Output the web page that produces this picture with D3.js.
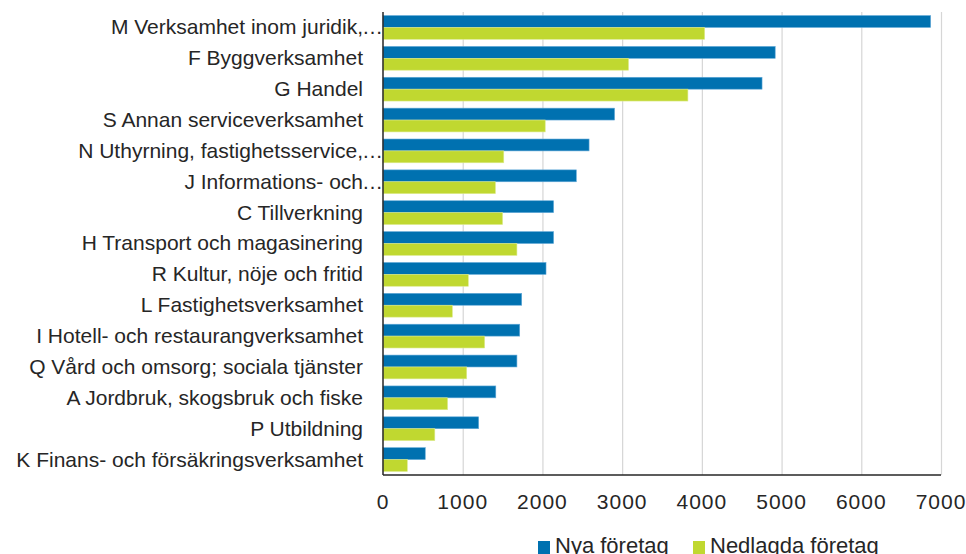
<!DOCTYPE html>
<html>
<head>
<meta charset="utf-8">
<script src="https://cdn.jsdelivr.net/npm/d3@7"></script>
<style>
  body { margin: 0; background: #fff; }
  svg { display: block; font-family: "Liberation Sans", Arial, sans-serif; }
  .grid line { stroke: #d6d6d6; stroke-width: 1.2; }
  .grid .domain { display: none; }
  .axis-label { font-size: 21px; fill: #262626; }
</style>
</head>
<body>
<svg id="chart"></svg>
<script>
// Categories, top to bottom
const categories = [
  'M Verksamhet inom juridik,…',
  'F Byggverksamhet',
  'G Handel',
  'S Annan serviceverksamhet',
  'N Uthyrning, fastighetsservice,…',
  'J Informations- och…',
  'C Tillverkning',
  'H Transport och magasinering',
  'R Kultur, nöje och fritid',
  'L Fastighetsverksamhet',
  'I Hotell- och restaurangverksamhet',
  'Q Vård och omsorg; sociala tjänster',
  'A Jordbruk, skogsbruk och fiske',
  'P Utbildning',
  'K Finans- och försäkringsverksamhet'
];

const nyaForetag = [6870, 4920, 4755, 2905, 2585, 2425, 2140, 2140, 2045, 1740, 1715, 1680, 1415, 1200, 530];
const nedlagdaForetag = [4035, 3080, 3825, 2035, 1515, 1410, 1500, 1680, 1070, 870, 1275, 1050, 810, 650, 305];

const seriesNames = ['Nya företag', 'Nedlagda företag'];
const xTicks = [0, 1000, 2000, 3000, 4000, 5000, 6000, 7000];

const colors = ['#0071B0', '#C0D830'];
const strokes = ['#62a9d8', '#dcea8c'];

const width = 966, height = 554;
const margin = { top: 12, right: 25, bottom: 79, left: 383 };
const innerW = width - margin.left - margin.right;
const innerH = height - margin.top - margin.bottom;

const svg = d3.select('#chart')
  .attr('width', width)
  .attr('height', height);

const g = svg.append('g')
  .attr('transform', `translate(${margin.left},${margin.top})`);

// Scales
const x = d3.scaleLinear().domain([0, 7000]).range([0, innerW]);
const y = d3.scaleBand().domain(categories).range([0, innerH])
  .paddingInner(0.23).paddingOuter(0.115);
const ySub = d3.scaleBand().domain(seriesNames).range([0, y.bandwidth()]);

// Vertical grid lines
g.append('g')
  .attr('class', 'grid')
  .call(d3.axisBottom(x).tickValues(xTicks.slice(1)).tickSize(innerH).tickFormat(''));

// Build table
const rows = categories.map((c, i) => ({
  cat: c,
  values: [nyaForetag[i], nedlagdaForetag[i]]
}));

// Bars
const groups = g.selectAll('.cat')
  .data(rows)
  .join('g')
  .attr('class', 'cat')
  .attr('transform', d => `translate(0,${y(d.cat)})`);

groups.selectAll('rect')
  .data(d => d.values.map((v, k) => ({ v, k })))
  .join('rect')
  .attr('x', 0)
  .attr('y', d => ySub(seriesNames[d.k]))
  .attr('width', d => x(d.v))
  .attr('height', ySub.bandwidth())
  .attr('fill', d => colors[d.k])
  .attr('stroke', d => strokes[d.k])
  .attr('stroke-width', 0.6);

// Category labels (ellipsis of cut labels hangs past the text edge)
const labelX = -20;
const labels = g.selectAll('.cat-label')
  .data(categories)
  .join('g')
  .attr('class', 'cat-label')
  .attr('transform', d => `translate(0,${y(d) + y.bandwidth() / 2})`);

labels.append('text')
  .attr('class', 'axis-label')
  .attr('x', labelX)
  .attr('dy', '0.33em')
  .attr('text-anchor', 'end')
  .text(d => d.endsWith('…') ? d.slice(0, -1) : d);

labels.filter(d => d.endsWith('…'))
  .append('text')
  .attr('class', 'axis-label')
  .attr('x', labelX - 1)
  .attr('dy', '0.33em')
  .text('…');

// Axis lines
g.append('line')
  .attr('x1', 0).attr('x2', 0)
  .attr('y1', 0).attr('y2', innerH)
  .attr('stroke', '#262626').attr('stroke-width', 1.5);
g.append('line')
  .attr('x1', 0).attr('x2', innerW)
  .attr('y1', innerH).attr('y2', innerH)
  .attr('stroke', '#262626').attr('stroke-width', 1.5);

// X tick labels
g.selectAll('.x-label')
  .data(xTicks)
  .join('text')
  .attr('class', 'axis-label x-label')
  .attr('x', d => x(d))
  .attr('y', innerH + 34)
  .attr('text-anchor', 'middle')
  .style('letter-spacing', '1px')
  .text(d => d);

// Legend
const legend = svg.append('g')
  .attr('transform', 'translate(538,541)');
const legendX = [0, 155];
seriesNames.forEach((name, k) => {
  const item = legend.append('g').attr('transform', `translate(${legendX[k]},0)`);
  item.append('rect')
    .attr('width', 12).attr('height', 13)
    .attr('fill', colors[k]);
  item.append('text')
    .attr('class', 'axis-label')
    .attr('x', 17)
    .attr('y', 12)
    .style('font-size', '22px')
    .text(name);
});
</script>
</body>
</html>
